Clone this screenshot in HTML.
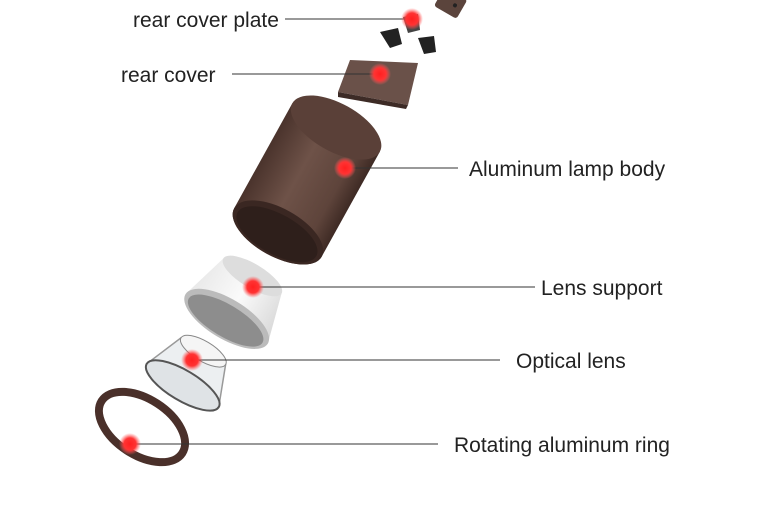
<!DOCTYPE html>
<html><head><style>
body{margin:0;background:#fff;}
svg{display:block;}
text{font-family:"Liberation Sans",sans-serif;font-size:21px;fill:#222;}
</style></head><body>
<svg width="775" height="520" viewBox="0 0 775 520">
<defs>
<linearGradient id="wood" x1="0" x2="1" y1="0" y2="0">
<stop offset="0" stop-color="#4a332c"/><stop offset="0.4" stop-color="#6e5248"/><stop offset="0.8" stop-color="#5e443b"/><stop offset="1" stop-color="#3e2a24"/>
</linearGradient>
<linearGradient id="white" x1="0" x2="1"><stop offset="0" stop-color="#e8e8e8"/><stop offset="0.5" stop-color="#fafafa"/><stop offset="1" stop-color="#d8d8d8"/></linearGradient>
<radialGradient id="dot"><stop offset="0" stop-color="#ff2020"/><stop offset="0.55" stop-color="#f33"/><stop offset="1" stop-color="#ff6060" stop-opacity="0"/></radialGradient>
</defs>
<g transform="translate(450,6) rotate(30)"><rect x="-14" y="-14" width="26" height="22" rx="3" fill="#5b443c"/><circle cx="4" cy="-3" r="2" fill="#222"/></g>
<polygon points="403,17 418,14 420,30 408,33" fill="#444"/>
<polygon points="380,32 398,28 402,44 390,48" fill="#222"/>
<polygon points="418,38 434,36 436,52 424,54" fill="#222"/>
<polygon points="350,60 418,63 408,105 338,92" fill="#6a5149"/>
<polygon points="338,92 408,105 406,109 338,97" fill="#3d2b26"/>
<!-- cylinder -->
<g transform="translate(307,180) rotate(29)">
<path d="M-50,-60 L-50,60 A50,24 0 0 0 50,60 L50,-60 Z" fill="url(#wood)"/>
<ellipse cx="0" cy="-60" rx="50" ry="24" fill="#5a4038"/>
<ellipse cx="0" cy="60" rx="50" ry="24" fill="#3a2722"/>
<ellipse cx="0" cy="62" rx="45" ry="20" fill="#2e1f1b"/>
</g>
<!-- lens support -->
<g transform="translate(238,300) rotate(31)">
<path d="M-34,-28 L34,-28 L48,22 L-48,22 Z" fill="url(#white)"/>
<ellipse cx="0" cy="-28" rx="34" ry="12" fill="#ddd"/>
<ellipse cx="0" cy="22" rx="48" ry="20" fill="#bbb"/>
<ellipse cx="0" cy="24" rx="43" ry="16" fill="#8d8d8d"/>
</g>
<!-- optical lens -->
<g transform="translate(192,370) rotate(31)">
<path d="M-26,-22 L26,-22 L42,18 L-42,18 Z" fill="#eceff1" stroke="#999" stroke-width="1.5"/>
<ellipse cx="0" cy="-22" rx="26" ry="10" fill="#f5f5f5" stroke="#888"/>
<ellipse cx="0" cy="18" rx="42" ry="15" fill="#dfe3e6" stroke="#555" stroke-width="2"/>
</g>
<g transform="translate(142,427) rotate(33)">
<ellipse cx="0" cy="0" rx="48" ry="28" fill="none" stroke="#4a302a" stroke-width="8"/>
</g>
<g stroke="#333" stroke-width="1">
<line x1="285" y1="19" x2="412" y2="19"/>
<line x1="232" y1="74" x2="380" y2="74"/>
<line x1="345" y1="168" x2="458" y2="168"/>
<line x1="253" y1="287" x2="535" y2="287"/>
<line x1="192" y1="360" x2="500" y2="360"/>
<line x1="130" y1="444" x2="438" y2="444"/>
</g>
<g fill="url(#dot)">
<circle cx="412" cy="19" r="11"/><circle cx="380" cy="74" r="11"/><circle cx="345" cy="168" r="11"/>
<circle cx="253" cy="287" r="11"/><circle cx="192" cy="360" r="11"/><circle cx="130" cy="444" r="11"/>
</g>
<text x="133" y="27">rear cover plate</text>
<text x="121" y="82">rear cover</text>
<text x="469" y="176">Aluminum lamp body</text>
<text x="541" y="295">Lens support</text>
<text x="516" y="368">Optical lens</text>
<text x="454" y="452">Rotating aluminum ring</text>
</svg>
</body></html>
